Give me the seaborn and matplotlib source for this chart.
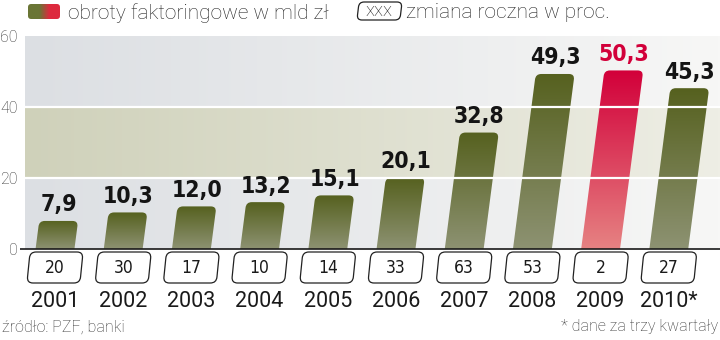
import numpy as np
import pandas as pd
import matplotlib
matplotlib.use("Agg")
import matplotlib.pyplot as plt
import seaborn as sns
from matplotlib.patches import FancyBboxPatch
from matplotlib.transforms import Affine2D
from matplotlib.colors import to_rgb

# ---------------- data ----------------
years = ["2001", "2002", "2003", "2004", "2005", "2006", "2007", "2008", "2009", "2010*"]
turnover = [7.9, 10.3, 12.0, 13.2, 15.1, 20.1, 32.8, 49.3, 50.3, 45.3]
yoy_change = [20, 30, 17, 10, 14, 33, 63, 53, 2, 27]
highlight_year = "2009"
y_ticks = [0, 20, 40, 60]

legend_main = "obroty faktoringowe w mld zł"
legend_box = "xxx"
legend_change = "zmiana roczna w proc."
source_note = "źródło: PZF, banki"
footnote = "* dane za trzy kwartały"

# ---------------- style ----------------
sns.set_theme(style="white")
plt.rcParams['font.family'] = ['Roboto', 'DejaVu Sans']
COND = ['DejaVu Sans Condensed', 'DejaVu Sans']

W, H = 720, 340
fig = plt.figure(figsize=(W / 100, H / 100), dpi=100)
fig.patch.set_facecolor("white")

PX_X = 68.2     # pixels per category unit
PX_Y = 3.55     # pixels per value unit
C0 = 55         # pixel x of first category centre
ax_l, ax_r, ax_t, ax_b = 20, 720, 36, 290
ax = fig.add_axes([ax_l / W, 1 - ax_b / H, (ax_r - ax_l) / W, (ax_b - ax_t) / H])

df = pd.DataFrame({"year": years, "value": turnover})
sns.barplot(data=df, x="year", y="value", order=years, width=0.57,
            color="k", ax=ax, errorbar=None)

xlim = ((ax_l - C0) / PX_X, (ax_r - C0) / PX_X)
ylim = (-(ax_b - 249) / PX_Y, 60)

# background bands (horizontal gradient, sharp band edges)
ncol = 300
t = np.linspace(0, 1, ncol)[None, :, None]
gray_l, gray_r = np.array([220, 223, 227]) / 255, np.array([247, 247, 246]) / 255
band_l, band_r = np.array([207, 209, 186]) / 255, np.array([238, 238, 229]) / 255
gray = gray_l + (gray_r - gray_l) * t
band = band_l + (band_r - band_l) * t
bg = np.concatenate([gray, band, gray], axis=0)
bg_x0 = (25 - C0) / PX_X
ax.imshow(bg, extent=(bg_x0, xlim[1], 0, 60), aspect="auto",
          interpolation="nearest", zorder=0, origin="upper")

# slanted, rounded, gradient bars built from seaborn's bar geometry
kb = 0.13 * PX_Y / PX_X
skew_bar = Affine2D().skew(np.arctan(kb), 0) + ax.transData
r_bar = 5.5 / PX_X
olive_top, olive_bot = np.array(to_rgb("#56611f")), np.array(to_rgb("#8d9272"))
red_top, red_bot = np.array(to_rgb("#d2003a")), np.array(to_rgb("#e68282"))

for patch, yr in zip(list(ax.patches), years):
    x0 = patch.get_x()
    w = patch.get_width()
    h = patch.get_height()
    patch.set_visible(False)
    shape = FancyBboxPatch((x0, -2), w, h + 2,
                           boxstyle=f"round,pad=0,rounding_size={r_bar}",
                           mutation_aspect=PX_X / PX_Y,
                           transform=skew_bar, fc="none", ec="none", zorder=2)
    ax.add_patch(shape)
    top, bot = (red_top, red_bot) if yr == highlight_year else (olive_top, olive_bot)
    s = np.linspace(0, 1, 100)[:, None, None]
    grad = top + (bot - top) * s
    im = ax.imshow(grad, extent=(x0 - 0.01, x0 + w + kb * h + 0.02, 0, h),
                   aspect="auto", interpolation="bilinear", zorder=2, origin="upper")
    im.set_clip_path(shape)
    # value label
    lab = f"{h:.1f}".replace(".", ",")
    ax.text(x0 + w / 2 + kb * h, h + 2.7, lab, ha="center", va="baseline",
            fontsize=16.5, fontweight="bold", family=COND, fontstretch="condensed",
            color="#d2003a" if yr == highlight_year else "#141414", zorder=6)

# white grid lines over bars
ax.hlines([20, 40], bg_x0, xlim[1], colors="white", lw=1.6, zorder=3)
# baseline
ax.axhline(0, color="#1a1a1a", lw=1.2, zorder=4)

# yoy boxes below the axis
box_w = 53 / PX_X
yb0, yb1 = -(283 - 249) / PX_Y, -(252 - 249) / PX_Y
yc = (yb0 + yb1) / 2
kbox = 0.1 * PX_Y / PX_X
skew_box = (Affine2D().translate(0, -yc).skew(np.arctan(kbox), 0).translate(0, yc)
            + ax.transData)
for i, v in enumerate(yoy_change):
    bx = FancyBboxPatch((i - box_w / 2, yb0), box_w, yb1 - yb0,
                        boxstyle=f"round,pad=0,rounding_size={6 / PX_X}",
                        mutation_aspect=PX_X / PX_Y, transform=skew_box,
                        fc="white", ec="#222222", lw=0.9, zorder=5, clip_on=False)
    ax.add_patch(bx)
    ax.text(i, yc - 0.2, str(v), ha="center", va="center", fontsize=12.5,
            family=COND, fontstretch="condensed", color="#1a1a1a", zorder=6)

ax.set_xlim(*xlim)
ax.set_ylim(*ylim)
ax.set_yticks(y_ticks)
ax.set_yticklabels([str(v) for v in y_ticks], fontsize=11.5, fontweight="light",
                   color="#333333")
ax.set_xticks(range(len(years)))
ax.set_xticklabels(years, fontsize=15.5, color="#1a1a1a")
ax.tick_params(axis="x", length=0, pad=0.5)
ax.tick_params(axis="y", length=0, pad=1.5)
ax.set_xlabel("")
ax.set_ylabel("")
ax.set_facecolor("white")
for sp in ax.spines.values():
    sp.set_visible(False)

# ---------------- legend ----------------
sw = fig.add_axes([28 / W, 1 - 19 / H, 32 / W, 15 / H])
sw.set_axis_off()
tt = np.linspace(0, 1, 100)
c_ol, c_rd = np.array(to_rgb("#6a7535")), np.array(to_rgb("#dd2a3e"))
mix = np.clip((tt - 0.35) / 0.3, 0, 1)[None, :, None]
sw_img = c_ol + (c_rd - c_ol) * mix
sw_im = sw.imshow(sw_img, extent=(0, 1, 0, 1), aspect="auto", interpolation="bilinear")
clip = FancyBboxPatch((0, 0), 1, 1, boxstyle="round,pad=0,rounding_size=0.1",
                      mutation_aspect=32 / 15, transform=sw.transAxes,
                      fc="none", ec="none")
sw.add_patch(clip)
sw_im.set_clip_path(clip)
sw.set_xlim(0, 1)
sw.set_ylim(0, 1)

fig.text(68 / W, 1 - 13 / H, legend_main, ha="left", va="center", fontsize=15,
         fontweight="light", color="#222222")

pix = Affine2D().scale(1, -1).translate(0, H)
lbc = 11
skew_leg = Affine2D().translate(0, -lbc).skew(np.arctan(-0.12), 0).translate(0, lbc) + pix
lb = FancyBboxPatch((358, 2), 43, 18, boxstyle="round,pad=0,rounding_size=5",
                    transform=skew_leg, fc="white", ec="#222222", lw=0.9)
fig.add_artist(lb)
fig.text(379.5 / W, 1 - 11.5 / H, legend_box, ha="center", va="center", fontsize=13.5,
         fontweight="light", color="#222222")
fig.text(406 / W, 1 - 13 / H, legend_change, ha="left", va="center", fontsize=15,
         fontweight="light", color="#222222")

# ---------------- footer ----------------
fig.text(2 / W, 1 - 327 / H, source_note, ha="left", va="center", fontsize=11.5,
         fontweight="light", color="#333333")
fig.text(718 / W, 1 - 327 / H, footnote, ha="right", va="center", fontsize=11.5,
         fontweight="light", color="#333333")

fig.savefig("out.png", dpi=100)
